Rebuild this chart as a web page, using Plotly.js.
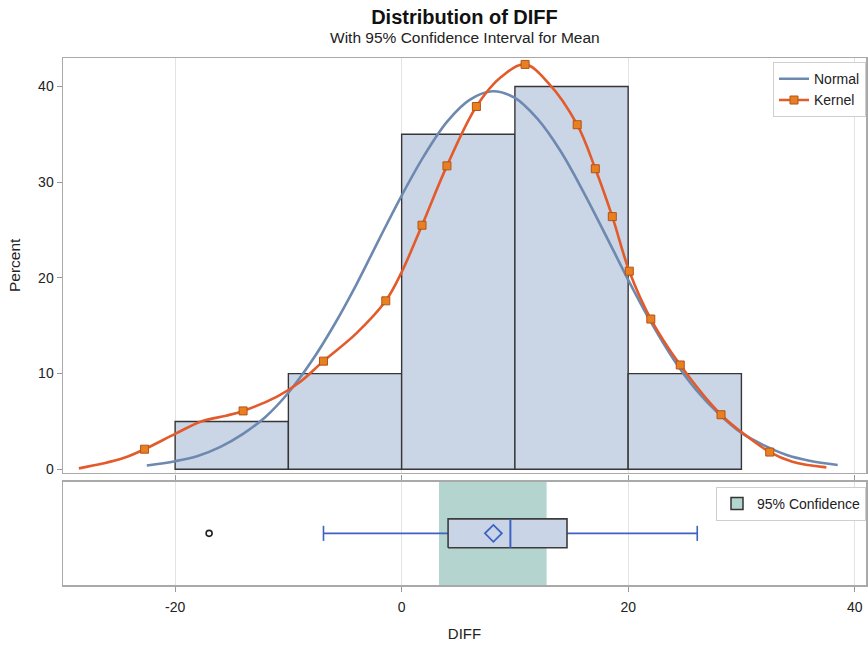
<!DOCTYPE html>
<html>
<head>
<meta charset="utf-8">
<script src="https://cdn.plot.ly/plotly-3.0.1.min.js"></script>
<style>html,body{margin:0;padding:0;background:#fff}#chart{width:868px;height:646px}</style>
</head>
<body>
<div id="chart"></div>
<script>
// ---- data ----
const binCenters = [-15, -5, 5, 15, 25];
const binPercents = [5, 10, 35, 40, 10];
const binWidth = 10;

const normalX = [-22.5,-20,-18,-16,-14,-12,-10,-8,-6,-4,-2,0,2,4,6,8,10,12,14,16,18,20,22,24,26,28,30,32,34,36,38.5];
const normalY = [0.4,0.85,1.4,2.35,3.7,5.5,8.0,11.2,15.0,19.3,24.0,28.6,32.8,36.3,38.6,39.5,38.8,36.6,33.3,29.1,24.5,19.8,15.4,11.5,8.3,5.8,3.8,2.5,1.5,0.9,0.45];

const kernelX = [-28.5,-26.4,-24.5,-22.7,-20,-17.7,-15.5,-14,-11,-9,-6.9,-4,-1.4,0,1.8,4,6.6,8.8,10.9,13,15.5,17.1,18.6,20.1,22,24.6,28.2,30,32.5,34.5,37.5];
const kernelY = [0.1,0.6,1.2,2.1,3.7,5.0,5.6,6.1,7.6,9.1,11.3,14.2,17.6,20.6,25.5,31.7,37.9,41.0,42.3,40.3,36.0,31.4,26.4,20.7,15.7,10.9,5.7,3.9,1.8,0.8,0.2];

const kernelMarkX = [-22.7,-14.0,-6.9,-1.4,1.8,4.0,6.6,10.9,15.5,17.1,18.6,20.1,22.0,24.6,28.2,32.5];
const kernelMarkY = [2.1,6.1,11.3,17.6,25.5,31.7,37.9,42.3,36.0,31.4,26.4,20.7,15.7,10.9,5.7,1.8];

const boxQ1 = 4.1;
const boxMedian = 9.6;
const boxQ3 = 14.6;
const whiskerLow = -6.9;
const whiskerHigh = 26.1;
const meanValue = 8.1;
const outliers = [-17.0];
const ciLow = 3.3;
const ciHigh = 12.8;

const xTicks = [-20, 0, 20, 40];
const xTickLabels = ['-20', '0', '20', '40'];
const yTicks = [0, 10, 20, 30, 40];

// ---- styling / positions ----
const c = 0.5, h = 0.14, ch = 0.073;
const blue = '#3d62c4';
const FONT = 'Liberation Sans, Arial, sans-serif';

const traces = [
  { type:'bar', x: binCenters, y: binPercents, width: binCenters.map(()=>binWidth),
    xaxis:'x', yaxis:'y', showlegend:false, hoverinfo:'skip',
    marker:{color:'#cad5e6', line:{color:'#363636', width:1.4}} },
  { type:'scatter', mode:'lines', name:'Normal', x: normalX, y: normalY,
    xaxis:'x', yaxis:'y', line:{color:'#6d89b0', width:2.6, shape:'spline'} },
  { type:'scatter', mode:'lines', x: kernelX, y: kernelY, showlegend:false,
    xaxis:'x', yaxis:'y', line:{color:'#e35a2b', width:2.6, shape:'spline'} },
  { type:'scatter', mode:'markers', x: kernelMarkX, y: kernelMarkY, showlegend:false,
    xaxis:'x', yaxis:'y', marker:{symbol:'square', size:8, color:'#e8801f', line:{color:'#b5521a', width:1}} },
  { type:'scatter', mode:'lines+markers', name:'Kernel', x:[null], y:[null],
    xaxis:'x', yaxis:'y', line:{color:'#e35a2b', width:2.6},
    marker:{symbol:'square', size:8, color:'#e8801f', line:{color:'#b5521a', width:1}} },
  // bottom panel
  { type:'scatter', mode:'lines', x:[ciLow, ciHigh, ciHigh, ciLow, ciLow], y:[0,0,1,1,0],
    fill:'toself', fillcolor:'#b3d4cf', line:{width:0}, showlegend:false,
    xaxis:'x', yaxis:'y2', hoverinfo:'skip' },
  { type:'bar', name:'95% Confidence', x:[null], y:[null], legend:'legend2',
    xaxis:'x', yaxis:'y2', marker:{color:'#b3d4cf', line:{color:'#333', width:1.5}} },
  { type:'scatter', mode:'lines', x:[whiskerLow, boxQ1, null, boxQ3, whiskerHigh], y:[c,c,null,c,c],
    line:{color:blue, width:1.6}, showlegend:false, xaxis:'x', yaxis:'y2' },
  { type:'scatter', mode:'lines', x:[whiskerLow, whiskerLow, null, whiskerHigh, whiskerHigh], y:[c-ch,c+ch,null,c-ch,c+ch],
    line:{color:blue, width:1.6}, showlegend:false, xaxis:'x', yaxis:'y2' },
  { type:'scatter', mode:'lines', x:[boxQ1, boxQ3, boxQ3, boxQ1, boxQ1], y:[c-h,c-h,c+h,c+h,c-h],
    fill:'toself', fillcolor:'#c9d5e6', line:{color:'#3c3c3c', width:1.6}, showlegend:false, xaxis:'x', yaxis:'y2' },
  { type:'scatter', mode:'lines', x:[boxMedian, boxMedian], y:[c-h,c+h],
    line:{color:blue, width:2}, showlegend:false, xaxis:'x', yaxis:'y2' },
  { type:'scatter', mode:'markers', x:[meanValue], y:[c],
    marker:{symbol:'diamond-open', size:13, color:blue, line:{width:1.8}}, showlegend:false, xaxis:'x', yaxis:'y2' },
  { type:'scatter', mode:'markers', x: outliers, y: outliers.map(()=>c),
    marker:{symbol:'circle-open', size:6, color:'#222', line:{width:1.6}}, showlegend:false, xaxis:'x', yaxis:'y2' }
];

const axisLine = '#a9a9a9';
const layout = {
  width:868, height:646,
  paper_bgcolor:'#ffffff', plot_bgcolor:'#ffffff',
  margin:{l:63, r:2, t:58, b:61},
  font:{family:FONT, color:'#222', size:14},
  barmode:'overlay',
  title:{
    text:'<b>Distribution of DIFF</b>', font:{family:FONT, size:20, color:'#111'},
    x:0.5, xref:'paper', xanchor:'center', y:(646-17)/646, yref:'container', yanchor:'middle'
  },
  annotations:[{
    text:'With 95% Confidence Interval for Mean', showarrow:false,
    xref:'paper', x:0.5, xanchor:'center', yref:'paper', y:1 + (58-37)/527, yanchor:'middle',
    font:{family:FONT, size:15.5, color:'#222'}
  }],
  xaxis:{
    range:[-29.9, 41], anchor:'y2', tickvals:xTicks, ticktext:xTickLabels, ticks:'outside', ticklen:5, tickcolor:'#999',
    ticklabelstandoff:4,
    showgrid:true, gridcolor:'#e3e3e3', gridwidth:1, zeroline:false,
    showline:true, linecolor:axisLine, linewidth:1.5, mirror:'all',
    tickfont:{size:14, color:'#222'},
    title:{text:'DIFF', font:{size:15, color:'#222'}, standoff:14}
  },
  yaxis:{
    domain:[0.213, 1], range:[-0.36, 42.97], tickvals:yTicks, ticks:'outside', ticklen:5, tickcolor:'#999',
    showgrid:false, zeroline:false, showline:true, linecolor:axisLine, linewidth:1.5, mirror:true,
    tickfont:{size:14, color:'#222'},
    title:{text:'Percent', font:{size:15.5, color:'#222'}, standoff:13}
  },
  yaxis2:{
    domain:[0, 0.196], range:[0, 1], showticklabels:false, ticks:'', showgrid:false, zeroline:false,
    showline:true, linecolor:axisLine, linewidth:1.5, mirror:true
  },
  legend:{
    x:1, xanchor:'right', y:0.992, yanchor:'top', bgcolor:'#ffffff',
    bordercolor:'#cfcfcf', borderwidth:1, font:{size:14, color:'#222'}, tracegroupgap:0
  },
  legend2:{
    x:1, xanchor:'right', y:0.186, yanchor:'top', bgcolor:'#ffffff',
    bordercolor:'#cfcfcf', borderwidth:1, font:{size:14, color:'#222'}
  },
  showlegend:true
};

Plotly.newPlot('chart', traces, layout, {displayModeBar:false, staticPlot:true});
</script>
</body>
</html>
